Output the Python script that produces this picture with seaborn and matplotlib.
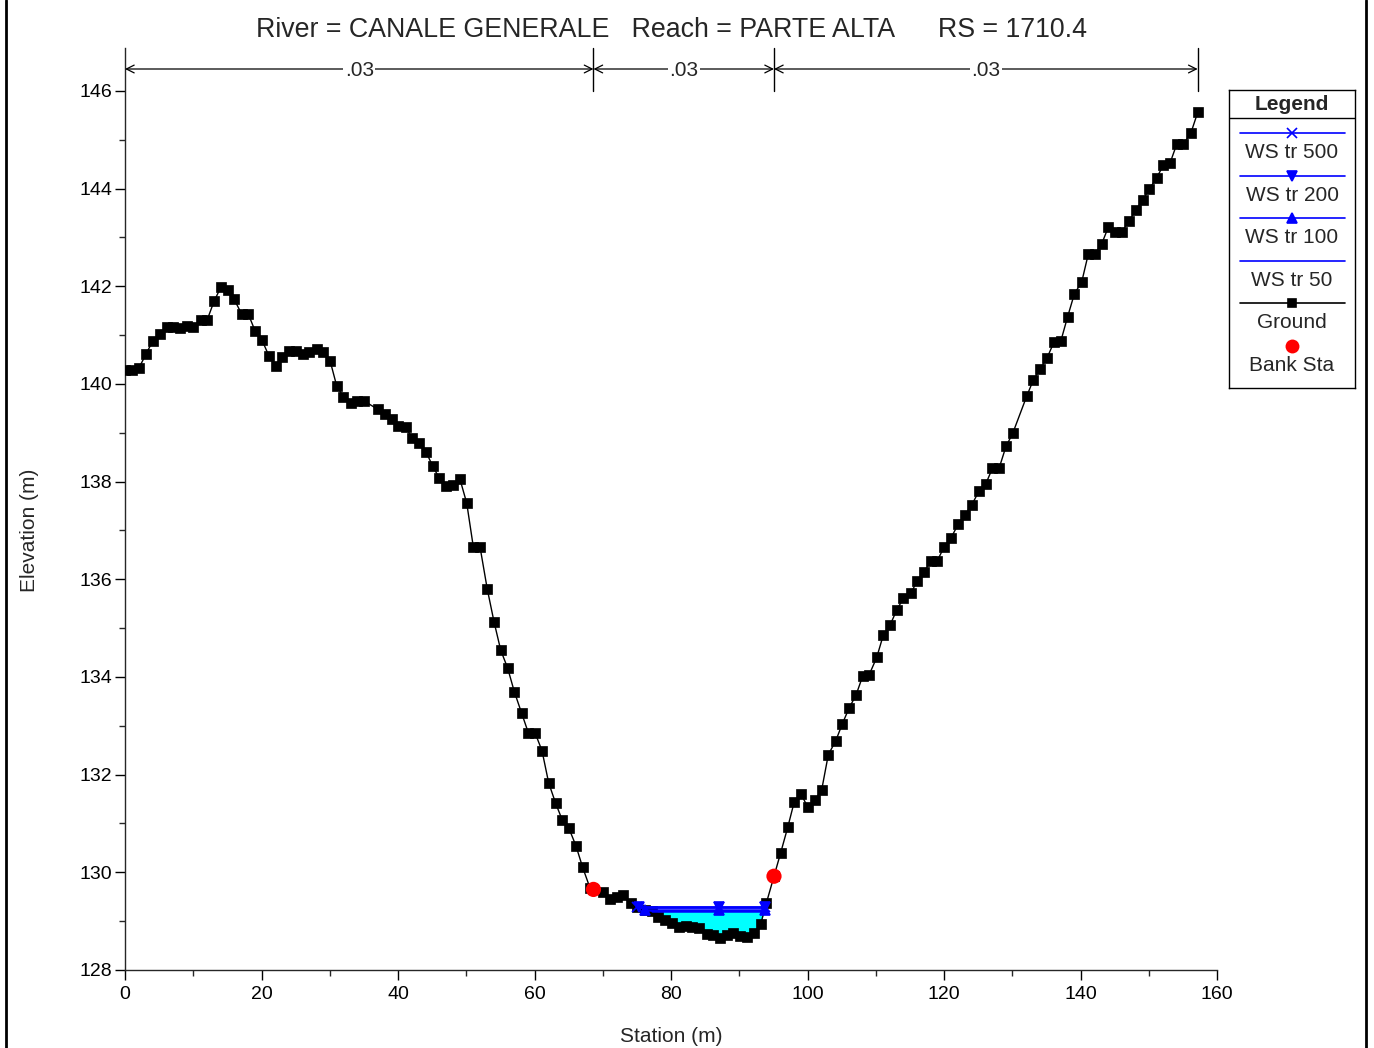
import numpy as np
import matplotlib
matplotlib.use('Agg')
import matplotlib.pyplot as plt
from matplotlib.lines import Line2D
import seaborn as sns

# === DATA (read from the HEC-RAS cross section) ===
ground_sta = [0.00, 0.98, 2.05, 3.08, 4.06, 5.13, 6.11, 7.08, 8.06, 9.04,
              10.01, 11.09, 12.06, 13.04, 14.07, 15.05, 16.01, 17.10, 18.07, 19.05,
              20.07, 21.10, 22.08, 23.05, 24.03, 25.05, 26.04, 27.00, 28.09, 29.05,
              30.04, 31.02, 31.99, 33.07, 34.04, 35.06, 37.03, 38.10, 39.08, 40.04,
              41.13, 42.10, 43.08, 44.10, 45.08, 46.05, 47.03, 48.01, 49.08, 50.07,
              51.03, 52.01, 53.08, 54.07, 55.05, 56.07, 57.04, 58.12, 59.09, 60.07,
              61.10, 62.08, 63.11, 64.07, 65.05, 66.08, 67.06, 68.13, 68.64, 69.99,
              71.06, 72.04, 73.01, 74.10, 75.06, 76.19, 77.17, 78.14, 79.12, 80.10,
              81.17, 82.15, 83.12, 84.10, 85.23, 86.20, 87.18, 88.16, 89.13, 90.11,
              91.09, 92.16, 93.14, 93.99, 95.09, 96.07, 97.10, 98.07, 99.05, 100.03,
              101.10, 102.08, 103.05, 104.13, 105.10, 106.08, 107.11, 108.09, 109.05, 110.14,
              111.11, 112.09, 113.07, 114.04, 115.12, 116.09, 117.07, 118.05, 119.02, 120.04,
              121.03, 122.09, 123.08, 124.06, 125.13, 126.11, 127.08, 128.06, 129.08, 130.07,
              132.12, 133.08, 134.07, 135.09, 136.12, 137.10, 138.12, 139.09, 140.18, 141.14,
              142.12, 143.11, 144.07, 145.05, 146.04, 147.11, 148.13, 149.11, 150.08, 151.16,
              152.13, 153.11, 154.10, 155.06, 156.15, 157.17]
ground_elev = [140.29, 140.29, 140.33, 140.61, 140.88, 141.02, 141.17, 141.16, 141.14, 141.19,
               141.17, 141.32, 141.32, 141.69, 141.99, 141.92, 141.73, 141.43, 141.43, 141.09,
               140.90, 140.57, 140.37, 140.55, 140.68, 140.68, 140.61, 140.66, 140.72, 140.65,
               140.48, 139.96, 139.74, 139.62, 139.65, 139.65, 139.48, 139.39, 139.28, 139.13,
               139.11, 138.89, 138.80, 138.61, 138.32, 138.07, 137.91, 137.93, 138.05, 137.56,
               136.67, 136.67, 135.80, 135.13, 134.55, 134.18, 133.70, 133.26, 132.86, 132.86,
               132.49, 131.83, 131.41, 131.07, 130.90, 130.54, 130.10, 129.68, 129.65, 129.59,
               129.45, 129.50, 129.53, 129.38, 129.29, 129.23, 129.21, 129.08, 129.02, 128.96,
               128.89, 128.90, 128.89, 128.87, 128.74, 128.72, 128.65, 128.72, 128.76, 128.70,
               128.67, 128.75, 128.94, 129.38, 129.92, 130.40, 130.92, 131.45, 131.60, 131.34,
               131.48, 131.69, 132.41, 132.69, 133.04, 133.36, 133.63, 134.02, 134.05, 134.40,
               134.86, 135.06, 135.37, 135.61, 135.71, 135.97, 136.14, 136.38, 136.38, 136.67,
               136.85, 137.13, 137.32, 137.52, 137.81, 137.95, 138.27, 138.27, 138.72, 138.99,
               139.75, 140.08, 140.30, 140.53, 140.86, 140.87, 141.38, 141.84, 142.09, 142.66,
               142.66, 142.87, 143.21, 143.11, 143.11, 143.34, 143.56, 143.77, 143.99, 144.22,
               144.48, 144.52, 144.91, 144.91, 145.13, 145.56]

bank_sta = [68.64, 95.09]
bank_elev = [129.65, 129.92]

ws_names = ["WS tr 500", "WS tr 200", "WS tr 100", "WS tr 50"]
ws_elev = [129.30, 129.28, 129.23, 129.20]
ws_markers = ['x', 'v', '^', None]
ws_mid_sta = 87.0

n_breaks = [0.0, 68.64, 95.09, 157.17]
n_values = [".03", ".03", ".03"]

title = "River = CANALE GENERALE   Reach = PARTE ALTA      RS = 1710.4"

# === STYLE ===
sns.set_theme(style="ticks")
plt.rcParams['font.family'] = ['Liberation Sans', 'DejaVu Sans']
plt.rcParams['axes.linewidth'] = 1.0

sta = np.array(ground_sta)
elev = np.array(ground_elev)


def ws_extent(z):
    # walk out from the thalweg until ground rises above the water surface
    i0 = int(np.argmin(elev))
    i = i0
    while elev[i] < z:
        i -= 1
    xl = np.interp(z, [elev[i + 1], elev[i]], [sta[i + 1], sta[i]])
    j = i0
    while elev[j] < z:
        j += 1
    xr = np.interp(z, [elev[j - 1], elev[j]], [sta[j - 1], sta[j]])
    return xl, xr


fig = plt.figure(figsize=(13.74, 10.48), dpi=100)
ax = fig.add_axes([125 / 1374, 1 - 970 / 1048, 1092 / 1374, 922 / 1048])

# water fill under the lowest profile
xl, xr = ws_extent(ws_elev[-1])
inside = (sta > xl) & (sta < xr)
x_fill = np.concatenate([[xl], sta[inside], [xr]])
ax.fill_between(x_fill, np.interp(x_fill, sta, elev), ws_elev[-1],
                color='#00ffff', lw=0, zorder=1)

# ground
sns.lineplot(x=ground_sta, y=ground_elev, ax=ax, color='black', lw=1.0,
             marker='s', markersize=7, mec='black', mew=0.5,
             sort=False, estimator=None, zorder=3)

# water surfaces
for name, z, m in zip(ws_names, ws_elev, ws_markers):
    a, b = ws_extent(z)
    ax.plot([a, b], [z, z], color='#0000ff', lw=1.8, zorder=4)
    if m is not None:
        ax.plot([a, ws_mid_sta, b], [z, z, z], ls='none', marker=m,
                color='#0000ff', markersize=7, mew=1.2, zorder=5)

# bank stations
sns.scatterplot(x=bank_sta, y=bank_elev, ax=ax, color='red', s=120,
                edgecolor='none', zorder=6)

# axes limits / ticks
ax.set_xlim(0, 160)
ax.set_ylim(128, 146.88)
ax.set_xticks(np.arange(0, 161, 20))
ax.set_xticks(np.arange(0, 161, 10), minor=True)
ax.set_yticks(np.arange(128, 147, 2))
ax.set_yticks(np.arange(128, 147, 1), minor=True)
ax.tick_params(which='major', direction='out', length=7, width=1, labelsize=14,
               colors='black', pad=2)
ax.tick_params(axis='x', which='major', pad=4.5)
ax.tick_params(which='minor', direction='out', length=4, width=1)
sns.despine(ax=ax)
ax.set_xlabel("Station (m)", fontsize=15, labelpad=17)
# label centred on the 128-146 range, as in HEC-RAS
ax.set_ylabel("Elevation (m)", fontsize=15, labelpad=29, y=(137 - 128) / 18.88)

# manning's n segments
y_arrow = 146.45
for k in range(len(n_values)):
    a, b = n_breaks[k], n_breaks[k + 1]
    ax.annotate("", xy=(a, y_arrow), xytext=(b, y_arrow),
                arrowprops=dict(arrowstyle='<->', lw=0.9, color='black',
                                shrinkA=0, shrinkB=0, mutation_scale=14),
                annotation_clip=False)
    ax.text((a + b) / 2, y_arrow - 0.04, n_values[k], ha='center', va='center', fontsize=15,
            bbox=dict(facecolor='white', edgecolor='none', pad=1.0), zorder=7)
for b in n_breaks[1:]:
    ax.plot([b, b], [146.0, 146.88], color='black', lw=1.0, clip_on=False)

fig.text(671.5 / 1374, 1 - 30 / 1048, title, ha='center', va='center', fontsize=19.3)

# legend panel drawn in its own axes (HEC-RAS style: symbol above label)
lg = fig.add_axes([1229 / 1374, 1 - 388 / 1048, 126 / 1374, 298 / 1048])
lg.set_xlim(0, 126)
lg.set_ylim(298, 0)
lg.set_xticks([])
lg.set_yticks([])
lg.set_facecolor('white')
for s in lg.spines.values():
    s.set_color('black')
    s.set_linewidth(1.0)
lg.text(63, 14, "Legend", ha='center', va='center', fontsize=15, fontweight='bold')
lg.plot([0, 126], [28, 28], color='black', lw=1.0)
entries = [(n, '#0000ff', m) for n, m in zip(ws_names, ws_markers)] + [("Ground", 'black', 's')]
for i, (name, col, m) in enumerate(entries):
    yl = 43 + i * 42.6
    lg.plot([11, 116], [yl, yl], color=col, lw=1.2)
    if m is not None:
        lg.plot([63], [yl], marker=m, color=col, markersize=7 if m != 's' else 6, mew=1.2)
    lg.text(63, yl + 19.5, name, ha='center', va='center', fontsize=15)
lg.plot([63], [256], marker='o', color='red', markersize=10, mec='none')
lg.text(63, 275.5, "Bank Sta", ha='center', va='center', fontsize=15)

# outer frame lines of the original window
for xp in (6, 1366):
    fig.add_artist(Line2D([xp / 1374, xp / 1374], [0, 1], transform=fig.transFigure,
                          color='black', lw=2))

fig.savefig("out.png", dpi=100)
